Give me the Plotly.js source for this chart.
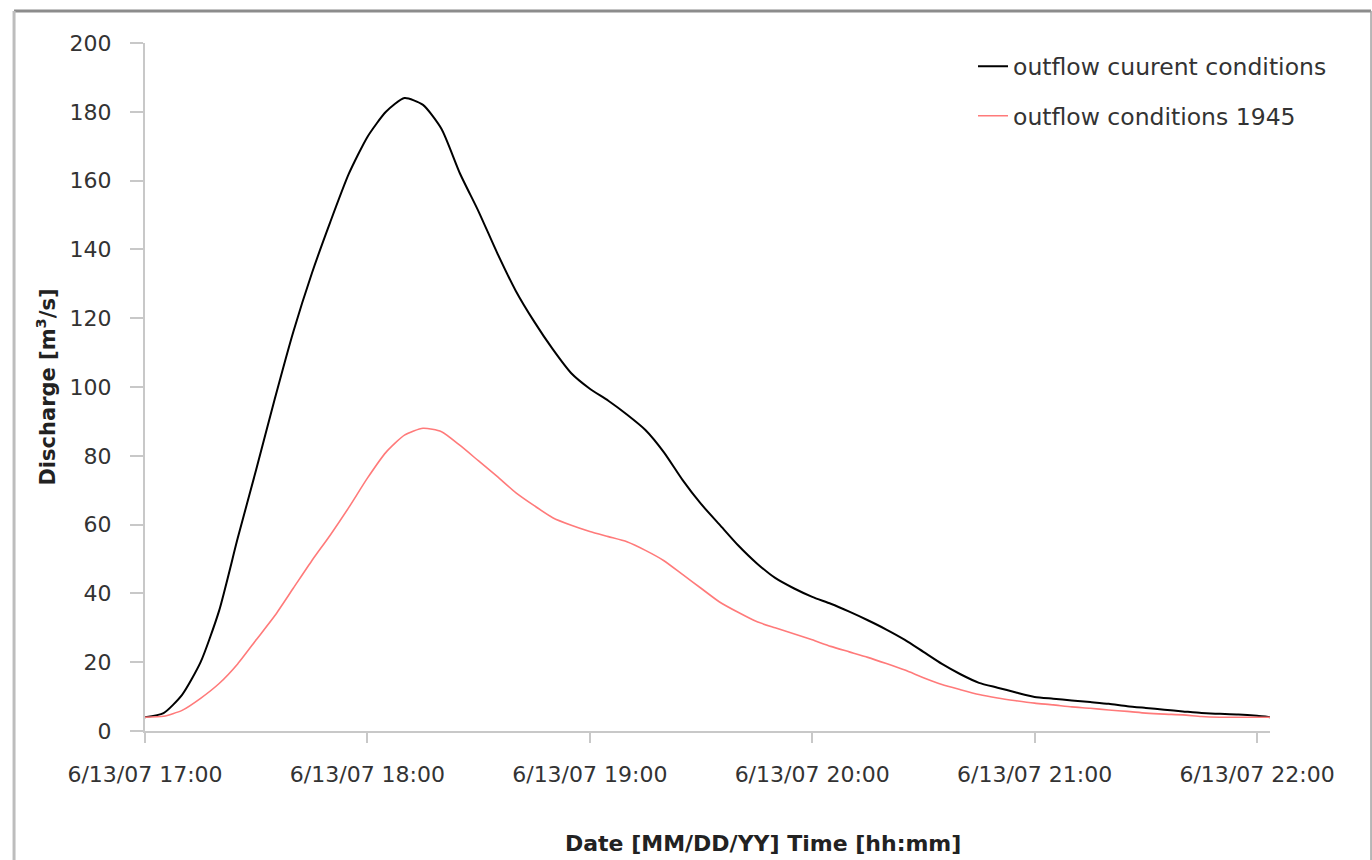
<!DOCTYPE html>
<html>
<head>
<meta charset="utf-8">
<script src="https://cdn.plot.ly/plotly-3.0.1.min.js"></script>
<style>html,body{margin:0;padding:0;background:#fff;}#chart{width:1372px;height:860px;}</style>
</head>
<body>
<div id="chart"></div>
<script>
var dateStr = '2007-06-13';
var times = ['17:00','17:05','17:10','17:15','17:20','17:25','17:30','17:35','17:40','17:45','17:50','17:55',
             '18:00','18:05','18:10','18:15','18:20','18:25','18:30','18:35','18:40','18:45','18:50','18:55',
             '19:00','19:05','19:10','19:15','19:20','19:25','19:30','19:35','19:40','19:45','19:50','19:55',
             '20:00','20:05','20:10','20:15','20:20','20:25','20:30','20:35','20:40','20:45','20:50','20:55',
             '21:00','21:05','21:10','21:15','21:20','21:25','21:30','21:35','21:40','21:45','21:50','21:55',
             '22:00','22:03:30'];
var outflowCurrent = [4,5.2,10.5,20,35,56,76,96.5,116,133,148,162,
                      172.7,180,184,182,175,162,151,139,128,119,111,104,
                      99.5,96,92,87.5,81,73,66,60,54,48.8,44.5,41.5,
                      39,37,34.7,32.2,29.5,26.5,23,19.5,16.5,14,12.6,11.2,
                      9.9,9.4,8.9,8.4,7.9,7.2,6.7,6.2,5.7,5.2,5.0,4.8,
                      4.4,4.0];
var outflow1945 = [4,4.3,6,9.5,13.8,19.5,26.5,33.5,41.5,49.5,57,65,
                   73.5,81,86,88,87,83,78.5,74,69.3,65.5,62,59.8,
                   58,56.5,55,52.5,49.5,45.5,41.5,37.5,34.5,31.8,30,28.3,
                   26.5,24.6,23,21.4,19.6,17.7,15.5,13.5,12,10.6,9.6,8.8,
                   8.1,7.6,7.0,6.6,6.1,5.7,5.2,4.9,4.7,4.2,4.0,4.0,
                   4.0,4.0];
var tickTimes = ['17:00','18:00','19:00','20:00','21:00','22:00'];
var tickLabels = ['6/13/07 17:00','6/13/07 18:00','6/13/07 19:00','6/13/07 20:00','6/13/07 21:00','6/13/07 22:00'];
var seriesNames = ['outflow cuurent conditions','outflow conditions 1945'];
var xTitle = 'Date [MM/DD/YY] Time [hh:mm]';
var yTitle = 'Discharge [m<sup>3</sup>/s]';

var x = times.map(function(t){ return dateStr + ' ' + (t.length === 5 ? t + ':00' : t); });
var tickvals = tickTimes.map(function(t){ return dateStr + ' ' + t + ':00'; });

var font = 'DejaVu Sans, Verdana, sans-serif';

var traces = [
  {x: x, y: outflowCurrent, name: seriesNames[0], type: 'scatter', mode: 'lines',
   line: {color: '#000000', width: 2, shape: 'spline', smoothing: 0.6}, legendgroup: 'a'},
  {x: x, y: outflow1945, name: seriesNames[1], type: 'scatter', mode: 'lines',
   line: {color: '#ff7a7a', width: 1.6, shape: 'spline', smoothing: 0.6}, legendgroup: 'b'}
];

var layout = {
  width: 1372, height: 860,
  paper_bgcolor: '#ffffff', plot_bgcolor: '#ffffff',
  margin: {l: 145, r: 102, t: 43, b: 129},
  font: {family: font, color: '#333333', size: 22},
  showlegend: true,
  legend: {x: 0.736, y: 0.998, xanchor: 'left', yanchor: 'top',
           font: {family: font, size: 23.5, color: '#333333'},
           bgcolor: 'rgba(0,0,0,0)', traceorder: 'grouped', tracegroupgap: 16},
  xaxis: {
    type: 'date',
    range: [dateStr + ' 17:00:00', dateStr + ' 22:03:30'],
    tickmode: 'array', tickvals: tickvals, ticktext: tickLabels,
    showgrid: false, zeroline: false,
    showline: true, linecolor: '#c8c8c8', linewidth: 2,
    ticks: 'outside', ticklen: 10, tickwidth: 2, tickcolor: '#c8c8c8',
    ticklabelstandoff: 13,
    tickfont: {family: font, size: 22, color: '#333333'}
  },
  yaxis: {
    range: [0, 200], dtick: 20, tick0: 0,
    showgrid: false, zeroline: false,
    showline: true, linecolor: '#c8c8c8', linewidth: 2,
    ticks: 'outside', ticklen: 13, tickwidth: 2, tickcolor: '#c8c8c8',
    ticklabelstandoff: 14,
    tickfont: {family: font, size: 22, color: '#333333'},
    title: {text: yTitle, standoff: 8,
            font: {family: font, size: 21, color: '#222222', weight: 'bold'}}
  },
  annotations: [
    {text: xTitle, xref: 'paper', yref: 'paper', x: 0.549, y: -0.163,
     xanchor: 'center', yanchor: 'middle', showarrow: false,
     font: {family: font, size: 22, color: '#222222', weight: 'bold'}}
  ],
  shapes: [
    {type: 'line', xref: 'paper', yref: 'paper', x0: -0.1164, x1: 1.0898, y0: 1.0465, y1: 1.0465,
     line: {color: '#8c8c8c', width: 3}},
    {type: 'line', xref: 'paper', yref: 'paper', x0: -0.1164, x1: -0.1164, y0: -0.25, y1: 1.0465,
     line: {color: '#bdbdbd', width: 3}},
    {type: 'line', xref: 'paper', yref: 'paper', x0: 1.0898, x1: 1.0898, y0: -0.25, y1: 1.0465,
     line: {color: '#a0a0a0', width: 1.5}}
  ]
};

Plotly.newPlot('chart', traces, layout, {displayModeBar: false, staticPlot: true});
</script>
</body>
</html>
